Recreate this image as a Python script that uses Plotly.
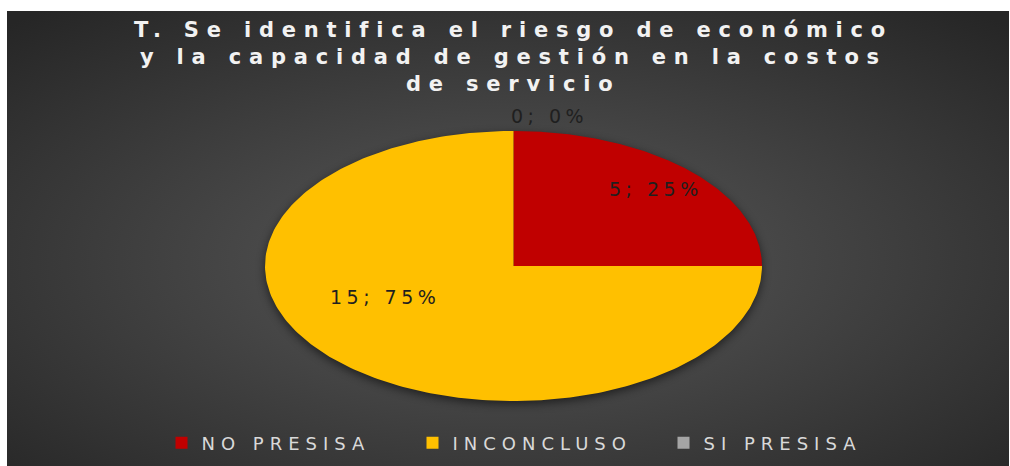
import base64
import numpy as np
import plotly.graph_objects as go

# ---------------- data ----------------
categories = ["NO PRESISA", "INCONCLUSO", "SI PRESISA"]
values = [5, 15, 0]
title_lines = [
    "T. Se identifica el riesgo de económico",
    "y la capacidad de gestión en la costos",
    "de servicio",
]

# ---------------- style ----------------
colors = ["#C00000", "#FFC000", "#A5A5A5"]
W, H = 1010, 466
pie_box = dict(x0=265, x1=762, y0=131, y1=401)  # page pixels of the pie bounding box
label_radius = [0.81, 0.565, 1.12]
label_angle_shift = [0, 21, 7.4]

total = sum(values)
fracs = [v / total for v in values]


def to_paper(u, v):
    """unit-pie coordinates -> paper coordinates"""
    xp = (pie_box["x0"] + (u + 1) / 2 * (pie_box["x1"] - pie_box["x0"])) / W
    yp = 1 - (pie_box["y1"] - (v + 1) / 2 * (pie_box["y1"] - pie_box["y0"])) / H
    return xp, yp


fig = go.Figure()

# pie wedges (drawn on axes stretched to the ellipse box)
start = 0.0
mids = []
for cat, v, f, c in zip(categories, values, fracs, colors):
    a0, a1 = start * 2 * np.pi, (start + f) * 2 * np.pi
    mids.append((a0 + a1) / 2)
    if v > 0:
        th = np.linspace(a0, a1, 240)
        xs = np.concatenate([[0], np.sin(th), [0]])
        ys = np.concatenate([[0], np.cos(th), [0]])
        fig.add_trace(go.Scatter(x=xs, y=ys, mode="lines", fill="toself",
                                 fillcolor=c, line=dict(width=0, color=c),
                                 hoverinfo="skip", showlegend=False))
    start += f

# legend entries
for cat, c in zip(categories, colors):
    fig.add_trace(go.Scatter(x=[None], y=[None], mode="markers",
                             marker=dict(symbol="square", size=12, color=c),
                             name=f'<span style="letter-spacing:6px">{cat}</span>'))

annotations = []
# data labels
for i, (v, f, m) in enumerate(zip(values, fracs, mids)):
    ang = m + np.deg2rad(label_angle_shift[i])
    r = label_radius[i]
    xp, yp = to_paper(r * np.sin(ang), r * np.cos(ang))
    annotations.append(dict(
        x=xp, y=yp, xref="paper", yref="paper",
        text=f'<span style="letter-spacing:4.5px">{v}; {round(f*100)}%</span>',
        showarrow=False, xanchor="center", yanchor="middle",
        font=dict(family="DejaVu Sans", size=19, color="#1f1f1f")))

# title lines
for k, line in enumerate(title_lines):
    annotations.append(dict(
        x=513 / W, y=1 - (30 + 27 * k) / H, xref="paper", yref="paper",
        text=f'<span style="letter-spacing:7.8px"><b>{line}</b></span>',
        showarrow=False, xanchor="center", yanchor="middle",
        font=dict(family="DejaVu Sans", size=21, color="#F2F2F2")))

# background panel: radial gradient + soft pie shadow
px0, py0, pw, ph = 7, 11, 1002, 455
cx = (pie_box["x0"] + pie_box["x1"]) / 2 - px0
cy = (pie_box["y0"] + pie_box["y1"]) / 2 - py0 + 3
rx = (pie_box["x1"] - pie_box["x0"]) / 2
ry = (pie_box["y1"] - pie_box["y0"]) / 2
svg = f'''<svg xmlns="http://www.w3.org/2000/svg" width="{pw}" height="{ph}" viewBox="0 0 {pw} {ph}" preserveAspectRatio="none">
<defs>
<radialGradient id="g" cx="50%" cy="55%" r="72%">
<stop offset="0" stop-color="#5a5a5a"/><stop offset="1" stop-color="#262626"/>
</radialGradient>
<filter id="b" x="-20%" y="-20%" width="140%" height="140%"><feGaussianBlur stdDeviation="5"/></filter>
</defs>
<rect width="{pw}" height="{ph}" fill="url(#g)"/>
<ellipse cx="{cx}" cy="{cy}" rx="{rx}" ry="{ry}" fill="#000" opacity="0.55" filter="url(#b)"/>
</svg>'''
src = "data:image/svg+xml;base64," + base64.b64encode(svg.encode()).decode()

fig.update_layout(
    width=W, height=H,
    margin=dict(l=0, r=0, t=0, b=0),
    paper_bgcolor="white", plot_bgcolor="rgba(0,0,0,0)",
    xaxis=dict(domain=[pie_box["x0"] / W, pie_box["x1"] / W], range=[-1, 1],
               visible=False, fixedrange=True),
    yaxis=dict(domain=[1 - pie_box["y1"] / H, 1 - pie_box["y0"] / H], range=[-1, 1],
               visible=False, fixedrange=True),
    images=[dict(source=src, xref="paper", yref="paper", x=px0 / W, y=1 - py0 / H,
                 sizex=pw / W, sizey=ph / H, sizing="stretch", layer="below",
                 xanchor="left", yanchor="top")],
    annotations=annotations,
    showlegend=True,
    legend=dict(orientation="h", x=538 / W, xanchor="center", y=1 - 443 / H,
                yanchor="middle", font=dict(family="DejaVu Sans", size=18, color="#D9D9D9"),
                bgcolor="rgba(0,0,0,0)", entrywidth=206, entrywidthmode="pixels"),
)

fig.write_html("out.html", config={"displayModeBar": False},
               post_script="document.body.style.margin='0';")
